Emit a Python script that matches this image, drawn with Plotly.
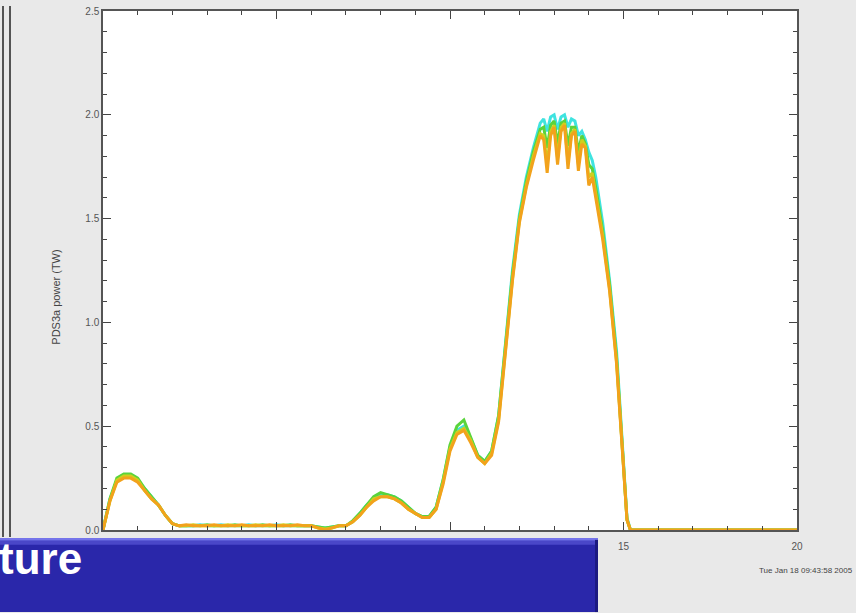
import plotly.graph_objects as go

# Time axis (samples), shared by all runs
time_s = [
    0.0, 0.2, 0.4, 0.6, 0.8, 1.0, 1.2, 1.4, 1.6, 1.8,
    2.0, 2.2, 2.4, 2.6, 2.8, 3.0, 3.2, 3.4, 3.6, 3.8,
    4.0, 4.2, 4.4, 4.6, 4.8, 5.0, 5.2, 5.4, 5.6, 5.8,
    6.0, 6.2, 6.4, 6.6, 6.8, 7.0, 7.2, 7.4, 7.6, 7.8,
    8.0, 8.2, 8.4, 8.6, 8.8, 9.0, 9.2, 9.4, 9.6, 9.8,
    10.0, 10.2, 10.4, 10.6, 10.8, 11.0, 11.2, 11.4, 11.6, 11.8,
    12.0, 12.2, 12.4,
    12.5, 12.6, 12.7, 12.8, 12.9, 13.0, 13.1, 13.2, 13.3, 13.4,
    13.5, 13.6, 13.7, 13.8, 13.9, 14.0, 14.1, 14.2,
    14.4, 14.6, 14.8, 15.0, 15.1, 15.2, 15.4, 16.0, 17.0, 18.0, 19.0, 20.0,
]

# PDS3a power (TW) for each run
power_cyan = [
    0.00, 0.15, 0.24, 0.26, 0.26, 0.24, 0.20, 0.16, 0.12, 0.07,
    0.03, 0.02, 0.02, 0.02, 0.025, 0.02, 0.02, 0.025, 0.02, 0.02,
    0.02, 0.025, 0.02, 0.02, 0.02, 0.025, 0.02, 0.02, 0.02, 0.02,
    0.02, 0.015, 0.01, 0.015, 0.02, 0.02, 0.04, 0.08, 0.12, 0.15,
    0.17, 0.17, 0.16, 0.14, 0.11, 0.08, 0.065, 0.065, 0.11, 0.24,
    0.40, 0.48, 0.50, 0.44, 0.36, 0.33, 0.38, 0.55, 0.90, 1.25,
    1.52, 1.70, 1.84,
    1.90, 1.96, 1.98, 1.92, 1.99, 2.00, 1.93, 1.99, 2.00, 1.94,
    1.98, 1.97, 1.90, 1.92, 1.88, 1.82, 1.78, 1.70,
    1.48, 1.20, 0.86, 0.34, 0.06, 0.00, 0.00, 0.00, 0.00, 0.00, 0.00, 0.00,
]
power_green = [
    0.00, 0.15, 0.25, 0.27, 0.27, 0.25, 0.20, 0.16, 0.12, 0.07,
    0.03, 0.02, 0.02, 0.02, 0.02, 0.025, 0.02, 0.02, 0.02, 0.025,
    0.02, 0.02, 0.02, 0.025, 0.02, 0.02, 0.02, 0.025, 0.02, 0.02,
    0.02, 0.015, 0.01, 0.015, 0.02, 0.02, 0.045, 0.08, 0.12, 0.16,
    0.18, 0.17, 0.16, 0.14, 0.11, 0.08, 0.065, 0.065, 0.11, 0.24,
    0.41, 0.50, 0.53, 0.44, 0.36, 0.33, 0.38, 0.55, 0.88, 1.23,
    1.50, 1.68, 1.82,
    1.87, 1.93, 1.94, 1.84, 1.95, 1.97, 1.86, 1.96, 1.97, 1.85,
    1.94, 1.94, 1.82, 1.90, 1.86, 1.76, 1.74, 1.65,
    1.44, 1.18, 0.83, 0.32, 0.05, 0.00, 0.00, 0.00, 0.00, 0.00, 0.00, 0.00,
]
power_yellow = [
    0.00, 0.14, 0.24, 0.26, 0.26, 0.24, 0.19, 0.15, 0.12, 0.07,
    0.03, 0.02, 0.02, 0.025, 0.02, 0.02, 0.02, 0.02, 0.025, 0.02,
    0.02, 0.02, 0.025, 0.02, 0.02, 0.02, 0.025, 0.02, 0.02, 0.02,
    0.02, 0.01, 0.005, 0.01, 0.02, 0.02, 0.04, 0.07, 0.11, 0.15,
    0.16, 0.16, 0.15, 0.13, 0.10, 0.08, 0.06, 0.06, 0.10, 0.23,
    0.39, 0.47, 0.49, 0.43, 0.35, 0.32, 0.37, 0.53, 0.86, 1.21,
    1.49, 1.66, 1.80,
    1.85, 1.91, 1.90, 1.76, 1.92, 1.95, 1.79, 1.94, 1.96, 1.77,
    1.91, 1.93, 1.76, 1.88, 1.85, 1.70, 1.72, 1.62,
    1.42, 1.16, 0.81, 0.31, 0.05, 0.00, 0.00, 0.00, 0.00, 0.00, 0.00, 0.00,
]
power_orange = [
    0.00, 0.14, 0.23, 0.25, 0.25, 0.23, 0.19, 0.15, 0.12, 0.07,
    0.03, 0.02, 0.025, 0.02, 0.02, 0.02, 0.025, 0.02, 0.02, 0.02,
    0.025, 0.02, 0.02, 0.02, 0.025, 0.02, 0.02, 0.02, 0.025, 0.02,
    0.02, 0.01, 0.00, 0.01, 0.02, 0.02, 0.04, 0.07, 0.11, 0.14,
    0.16, 0.16, 0.15, 0.13, 0.10, 0.08, 0.06, 0.06, 0.10, 0.22,
    0.38, 0.46, 0.48, 0.42, 0.35, 0.32, 0.36, 0.52, 0.85, 1.20,
    1.48, 1.65, 1.78,
    1.84, 1.90, 1.88, 1.72, 1.90, 1.94, 1.76, 1.92, 1.95, 1.74,
    1.90, 1.92, 1.73, 1.86, 1.84, 1.66, 1.70, 1.60,
    1.40, 1.15, 0.80, 0.30, 0.05, 0.00, 0.00, 0.00, 0.00, 0.00, 0.00, 0.00,
]

series = [
    ("run 4", power_cyan, "#3fe3e0"),
    ("run 3", power_green, "#5ad43c"),
    ("run 2", power_yellow, "#cfcf1e"),
    ("run 1", power_orange, "#f2a21c"),
]

x_ticks = [0, 5, 10, 15, 20]
y_ticks = [0.0, 0.5, 1.0, 1.5, 2.0, 2.5]
y_tick_text = ["0.0", "0.5", "1.0", "1.5", "2.0", "2.5"]

W, H = 856, 613
ML, MR, MT, MB = 103, 59, 5, 83
PW, PH = W - ML - MR, H - MT - MB


def px(xp):
    return (xp - ML) / PW


def py(yp):
    return (H - MB - yp) / PH


fig = go.Figure()
for name, vals, col in series:
    fig.add_trace(go.Scatter(
        x=time_s, y=vals, mode="lines", name=name,
        line=dict(color=col, width=3), showlegend=False,
    ))

axis_common = dict(
    showline=True, linecolor="#555555", linewidth=1.5, mirror="ticks",
    ticks="inside", ticklen=8, tickwidth=1.2, tickcolor="#444444",
    showgrid=False, zeroline=False,
    tickfont=dict(family="Liberation Sans, Arial, sans-serif", size=10, color="#555555"),
)
fig.update_xaxes(range=[0, 20], tickvals=x_ticks,
                 minor=dict(dtick=1, ticks="inside", ticklen=4, tickcolor="#444444"),
                 ticklabelstandoff=6, **axis_common)
fig.update_yaxes(range=[0, 2.5], tickvals=y_ticks, ticktext=y_tick_text,
                 minor=dict(dtick=0.1, ticks="inside", ticklen=4, tickcolor="#444444"),
                 **axis_common)

shapes = [
    # double rule at the left edge
    dict(type="line", xref="paper", yref="paper", x0=px(3), x1=px(3), y0=py(0), y1=py(537),
         line=dict(color="#222222", width=1.5), layer="above"),
    dict(type="line", xref="paper", yref="paper", x0=px(10), x1=px(10), y0=py(0), y1=py(537),
         line=dict(color="#222222", width=1.5), layer="above"),
    # title banner
    dict(type="rect", xref="paper", yref="paper", x0=px(0), x1=px(598), y0=py(613), y1=py(538),
         fillcolor="#2a27aa", line=dict(width=0), layer="above"),
    dict(type="rect", xref="paper", yref="paper", x0=px(0), x1=px(598), y0=py(541), y1=py(538),
         fillcolor="#7574ea", line=dict(width=0), layer="above"),
    dict(type="rect", xref="paper", yref="paper", x0=px(0), x1=px(598), y0=py(545), y1=py(541),
         fillcolor="#4a47c8", line=dict(width=0), layer="above"),
    dict(type="rect", xref="paper", yref="paper", x0=px(595), x1=px(598), y0=py(613), y1=py(540),
         fillcolor="#1c1a80", line=dict(width=0), layer="above"),
]

annotations = [
    dict(text="PDS3a power (TW)", xref="paper", yref="paper", x=px(48), y=py(295),
         textangle=-90, showarrow=False,
         font=dict(family="Liberation Sans, Arial, sans-serif", size=11, color="#444444")),
    dict(text="<b>ture</b>", xref="paper", yref="paper", x=px(-3), y=py(559),
         xanchor="left", yanchor="middle", showarrow=False,
         font=dict(family="Liberation Sans, Arial, sans-serif", size=44, color="white")),
    dict(text="Tue Jan 18 09:43:58 2005", xref="paper", yref="paper", x=px(806), y=py(571),
         xanchor="center", yanchor="middle", showarrow=False,
         font=dict(family="Liberation Sans, Arial, sans-serif", size=8, color="#444444")),
]

fig.update_layout(
    width=W, height=H,
    margin=dict(l=ML, r=MR, t=MT, b=MB, pad=0),
    paper_bgcolor="#e9e9e9", plot_bgcolor="white",
    shapes=shapes, annotations=annotations,
)

fig.write_html("out.html")
